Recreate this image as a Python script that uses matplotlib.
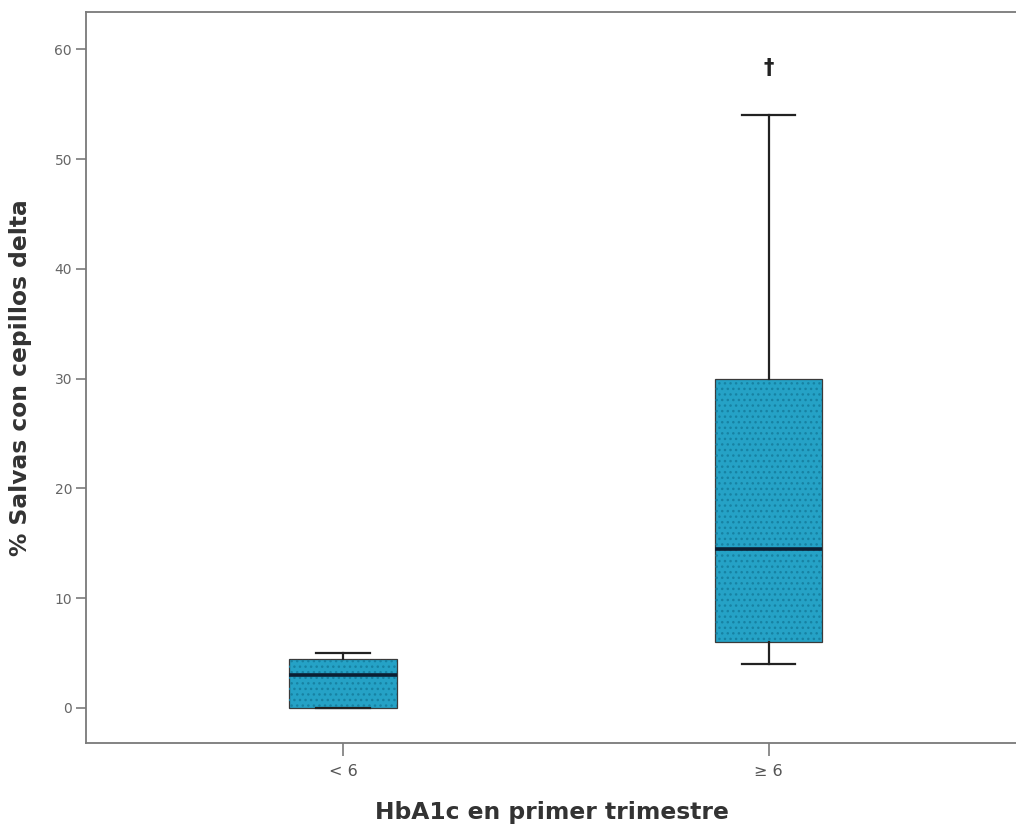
import matplotlib
matplotlib.use("Agg")
import matplotlib.pyplot as plt
from matplotlib.patches import PathPatch

# Summary statistics per HbA1c group
groups = ["< 6", "\u2265 6"]
whisker_low = [0.0, 4.0]
q1 = [0.0, 6.0]
median = [3.0, 14.5]
q3 = [4.5, 30.0]
whisker_high = [5.0, 54.0]
marker_text = ["", "\u2020"]
marker_value = [None, 58.3]

plt.rcParams["font.family"] = ["DejaVu Sans"]

fig = plt.figure(figsize=(10.16, 8.3), dpi=100)
ax = fig.add_axes([0.0846, 0.1048, 0.9164, 0.8807])

stats = []
for i, g in enumerate(groups):
    stats.append(dict(label=g, whislo=whisker_low[i], q1=q1[i], med=median[i],
                      q3=q3[i], whishi=whisker_high[i], fliers=[]))

positions = [1, 2]
box_fill = "#25a2c6"
res = ax.bxp(stats, positions=positions, widths=0.252, patch_artist=True,
             showfliers=False, capwidths=0.126,
             boxprops=dict(facecolor=box_fill, edgecolor="#3a3a3a", linewidth=0.9),
             medianprops=dict(color="#0b1f33", linewidth=2.6),
             whiskerprops=dict(color="#222222", linewidth=1.6),
             capprops=dict(color="#222222", linewidth=1.6))

# dotted texture on the boxes
for box in res["boxes"]:
    tex = PathPatch(box.get_path(), transform=box.get_transform(),
                    facecolor="none", edgecolor="#1782a3", hatch="...",
                    linewidth=0, zorder=box.get_zorder() + 0.01)
    ax.add_patch(tex)
for m in res["medians"]:
    m.set_zorder(5)

for x, t, v in zip(positions, marker_text, marker_value):
    if t and v is not None:
        ax.text(x, v, t, ha="center", va="center", fontsize=15,
                fontweight="bold", color="#222222")

ax.set_xlim(0.396, 2.584)
ax.set_ylim(-3.2, 63.4)
ax.set_yticks([0, 10, 20, 30, 40, 50, 60])
ax.set_xticks(positions)
ax.set_xticklabels(groups)

spine_c = "#7a7a7a"
for s in ["left", "top", "bottom"]:
    ax.spines[s].set_color(spine_c)
    ax.spines[s].set_linewidth(1.3)
ax.spines["right"].set_visible(False)

ax.tick_params(axis="y", direction="out", length=7.5, width=1.2, color=spine_c,
               labelsize=10, labelcolor="#666666", pad=2.5)
ax.tick_params(axis="x", direction="out", length=9, width=1.2, color=spine_c,
               labelsize=11.5, labelcolor="#555555", pad=6)

ax.set_xlabel("HbA1c en primer trimestre", fontsize=16.8, fontweight="bold",
              color="#333333", labelpad=16)
ax.set_ylabel("% Salvas con cepillos delta", fontsize=16.8, fontweight="bold",
              color="#333333", labelpad=16)

fig.savefig("out.png", dpi=100)
